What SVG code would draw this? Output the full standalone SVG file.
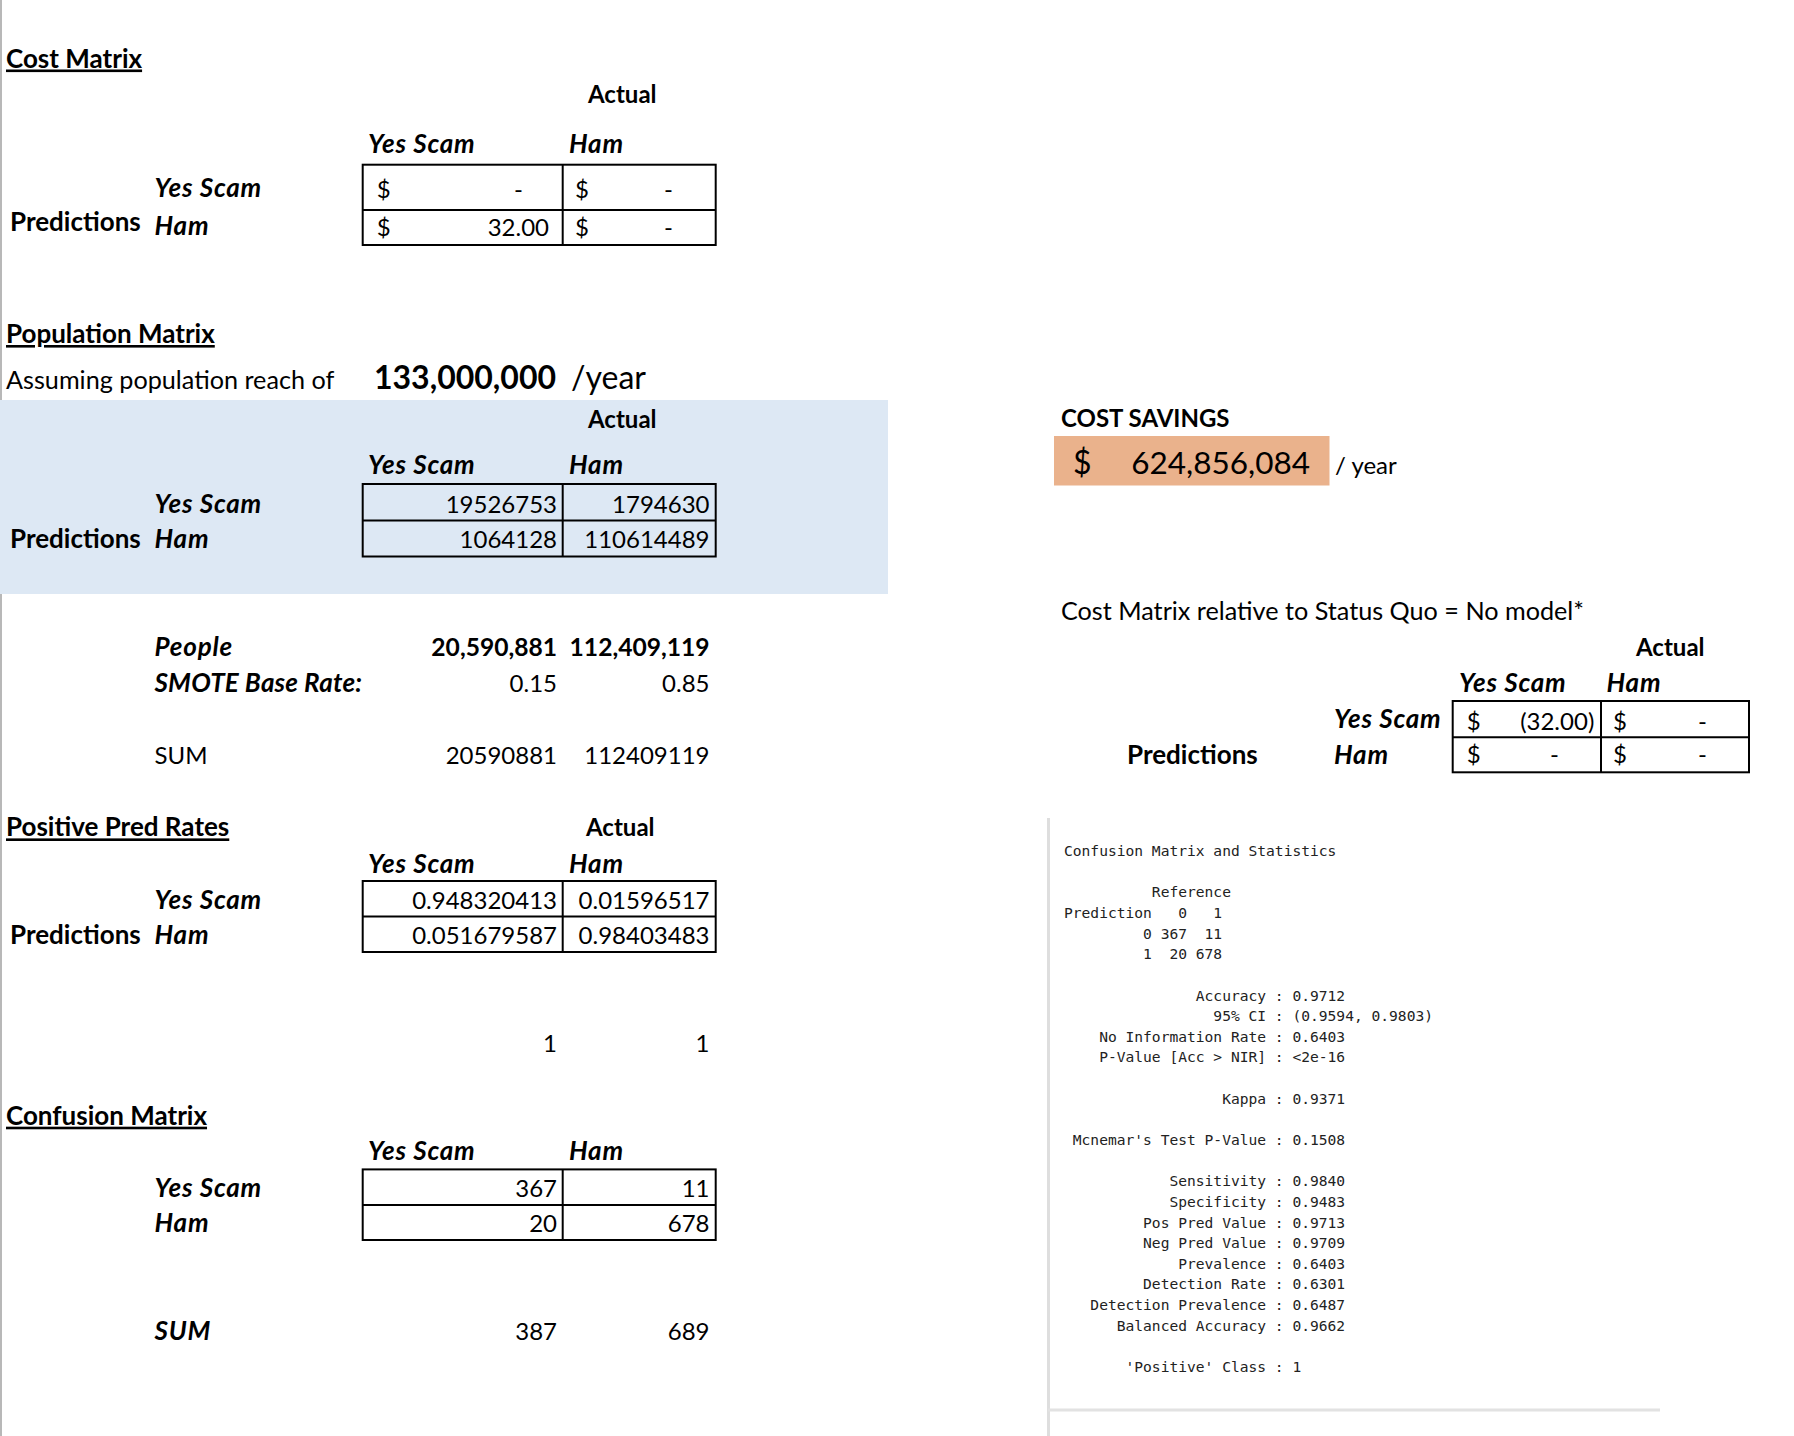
<svg xmlns="http://www.w3.org/2000/svg" width="1794" height="1436" viewBox="0 0 1794 1436">
<style>
.t{font-family:Lato,"Liberation Sans",sans-serif;font-size:24px;fill:#000}
.b{font-weight:700}
.bi{font-weight:700;font-style:italic;font-size:26px;letter-spacing:0.8px}
.h{font-size:26px}
.lbl{font-size:25.2px}
.u{text-decoration:underline}
.r{text-anchor:end}
.big{font-size:32px}
.grid{fill:none;stroke:#000;stroke-width:2}
.mono{font-family:"DejaVu Sans Mono","Liberation Mono",monospace;font-size:14.6px;fill:#222;white-space:pre}
</style>
<defs>
<clipPath id="clipSmote"><rect x="0" y="600" width="362" height="120"/></clipPath>
</defs>
<rect x="0" y="0" width="1794" height="1436" fill="#fff"/>
<rect x="0" y="0" width="2" height="1436" fill="#b8b8b8"/>

<g id="cost-matrix">
<text class="t b u h" x="6" y="67.5">Cost Matrix</text>
<text class="t b" x="588" y="103">Actual</text>
<text class="t bi" x="368" y="153">Yes Scam</text>
<text class="t bi" x="569" y="153">Ham</text>
<text class="t bi" x="154.5" y="197">Yes Scam</text>
<text class="t b h" x="10" y="231">Predictions</text>
<text class="t bi" x="154.5" y="235">Ham</text>
<rect class="grid" x="362.7" y="164.7" width="353" height="80.3"/>
<line class="grid" x1="362.7" y1="210" x2="715.7" y2="210"/>
<line class="grid" x1="562.7" y1="164.7" x2="562.7" y2="245"/>
<text class="t" x="376.7" y="198">$</text>
<text class="t r" x="523" y="198">-</text>
<text class="t" x="575" y="198">$</text>
<text class="t r" x="673" y="198">-</text>
<text class="t" x="376.7" y="236">$</text>
<text class="t r" x="549" y="236">32.00</text>
<text class="t" x="575" y="236">$</text>
<text class="t r" x="673" y="236">-</text>
</g>

<g id="population-matrix">
<text class="t b u h" x="6" y="343">Population Matrix</text>
<text class="t lbl" x="6" y="389">Assuming population reach of</text>
<text class="t b big" x="374" y="389">133,000,000</text>
<text class="t big" x="571" y="389">/year</text>
<rect x="0" y="400" width="888" height="194" fill="#DDE8F4"/>
<text class="t b" x="588" y="428">Actual</text>
<text class="t bi" x="368" y="474">Yes Scam</text>
<text class="t bi" x="569" y="474">Ham</text>
<text class="t bi" x="154.5" y="512.6">Yes Scam</text>
<text class="t b h" x="10" y="548">Predictions</text>
<text class="t bi" x="154.5" y="548">Ham</text>
<rect class="grid" x="362.7" y="484" width="353" height="72.5"/>
<line class="grid" x1="362.7" y1="520.5" x2="715.7" y2="520.5"/>
<line class="grid" x1="562.7" y1="484" x2="562.7" y2="556.5"/>
<text class="t r" x="557" y="512.6">19526753</text>
<text class="t r" x="709.5" y="512.6">1794630</text>
<text class="t r" x="557" y="548">1064128</text>
<text class="t r" x="709.5" y="548">110614489</text>
</g>

<g id="people-rows">
<text class="t bi" x="154.5" y="655.6">People</text>
<text class="t b r" x="557" y="655.6" style="font-size:24.6px">20,590,881</text>
<text class="t b r" x="709.5" y="655.6" style="font-size:24.6px">112,409,119</text>
<text class="t bi" x="154.5" y="692" style="letter-spacing:0.2px" clip-path="url(#clipSmote)">SMOTE Base Rate:</text>
<text class="t r" x="557" y="692">0.15</text>
<text class="t r" x="709.5" y="692">0.85</text>
<text class="t" x="154.5" y="764.4">SUM</text>
<text class="t r" x="557" y="764.4">20590881</text>
<text class="t r" x="709.5" y="764.4">112409119</text>
</g>

<g id="positive-pred-rates">
<text class="t b u h" x="6" y="836.4">Positive Pred Rates</text>
<text class="t b" x="586" y="836.4">Actual</text>
<text class="t bi" x="368" y="873">Yes Scam</text>
<text class="t bi" x="569" y="873">Ham</text>
<text class="t bi" x="154.5" y="908.5">Yes Scam</text>
<text class="t b h" x="10" y="944">Predictions</text>
<text class="t bi" x="154.5" y="944">Ham</text>
<rect class="grid" x="362.7" y="881" width="353" height="71"/>
<line class="grid" x1="362.7" y1="916.5" x2="715.7" y2="916.5"/>
<line class="grid" x1="562.7" y1="881" x2="562.7" y2="952"/>
<text class="t r" x="557" y="908.5">0.948320413</text>
<text class="t r" x="709.5" y="908.5">0.01596517</text>
<text class="t r" x="557" y="944">0.051679587</text>
<text class="t r" x="709.5" y="944">0.98403483</text>
<text class="t r" x="557" y="1051.5">1</text>
<text class="t r" x="709.5" y="1051.5">1</text>
</g>

<g id="confusion-matrix">
<text class="t b u h" x="6" y="1124.7">Confusion Matrix</text>
<text class="t bi" x="368" y="1160">Yes Scam</text>
<text class="t bi" x="569" y="1160">Ham</text>
<text class="t bi" x="154.5" y="1197">Yes Scam</text>
<text class="t bi" x="154.5" y="1232">Ham</text>
<rect class="grid" x="362.7" y="1169.4" width="353" height="70.6"/>
<line class="grid" x1="362.7" y1="1205" x2="715.7" y2="1205"/>
<line class="grid" x1="562.7" y1="1169.4" x2="562.7" y2="1240"/>
<text class="t r" x="557" y="1197">367</text>
<text class="t r" x="709.5" y="1197">11</text>
<text class="t r" x="557" y="1232">20</text>
<text class="t r" x="709.5" y="1232">678</text>
<text class="t bi" x="154.5" y="1340">SUM</text>
<text class="t r" x="557" y="1340">387</text>
<text class="t r" x="709.5" y="1340">689</text>
</g>

<g id="cost-savings">
<text class="t b" x="1061" y="427">COST SAVINGS</text>
<rect x="1054" y="436" width="275.5" height="49.5" fill="#EAB28C"/>
<text class="t big" x="1073" y="474">$</text>
<text class="t r" x="1310" y="474" style="font-size:31.5px">624,856,084</text>
<text class="t" x="1335" y="474">/ year</text>
</g>

<g id="relative-cost-matrix">
<text class="t lbl" x="1061" y="620">Cost Matrix relative to Status Quo = No model*</text>
<text class="t b" x="1636" y="655.6">Actual</text>
<text class="t bi" x="1459" y="692">Yes Scam</text>
<text class="t bi" x="1606.5" y="692">Ham</text>
<text class="t bi" x="1334" y="727.7">Yes Scam</text>
<text class="t b h" x="1127" y="764">Predictions</text>
<text class="t bi" x="1334" y="764">Ham</text>
<rect class="grid" x="1452.7" y="701" width="296.3" height="71.3"/>
<line class="grid" x1="1452.7" y1="737.3" x2="1749" y2="737.3"/>
<line class="grid" x1="1601" y1="701" x2="1601" y2="772.3"/>
<text class="t" x="1466.7" y="730">$</text>
<text class="t r" x="1594.3" y="730">(32.00)</text>
<text class="t" x="1613" y="730">$</text>
<text class="t r" x="1707" y="730">-</text>
<text class="t" x="1466.7" y="763.3">$</text>
<text class="t r" x="1559" y="763.3">-</text>
<text class="t" x="1613" y="763.3">$</text>
<text class="t r" x="1707" y="763.3">-</text>
</g>

<g id="r-output">
<line x1="1048.5" y1="818" x2="1048.5" y2="1436" stroke="#dedede" stroke-width="3"/>
<line x1="1048" y1="1410" x2="1660" y2="1410" stroke="#e2e2e2" stroke-width="3"/>
<g class="mono">
<text xml:space="preserve" x="1064" y="856">Confusion Matrix and Statistics</text>
<text xml:space="preserve" x="1064" y="897.3">          Reference</text>
<text xml:space="preserve" x="1064" y="917.9">Prediction   0   1</text>
<text xml:space="preserve" x="1064" y="938.6">         0 367  11</text>
<text xml:space="preserve" x="1064" y="959.2">         1  20 678</text>
<text xml:space="preserve" x="1064" y="1000.5">               Accuracy : 0.9712</text>
<text xml:space="preserve" x="1064" y="1021.1">                 95% CI : (0.9594, 0.9803)</text>
<text xml:space="preserve" x="1064" y="1041.8">    No Information Rate : 0.6403</text>
<text xml:space="preserve" x="1064" y="1062.4">    P-Value [Acc &gt; NIR] : &lt;2e-16</text>
<text xml:space="preserve" x="1064" y="1103.7">                  Kappa : 0.9371</text>
<text xml:space="preserve" x="1064" y="1145"> Mcnemar's Test P-Value : 0.1508</text>
<text xml:space="preserve" x="1064" y="1186.2">            Sensitivity : 0.9840</text>
<text xml:space="preserve" x="1064" y="1206.9">            Specificity : 0.9483</text>
<text xml:space="preserve" x="1064" y="1227.5">         Pos Pred Value : 0.9713</text>
<text xml:space="preserve" x="1064" y="1248.2">         Neg Pred Value : 0.9709</text>
<text xml:space="preserve" x="1064" y="1268.8">             Prevalence : 0.6403</text>
<text xml:space="preserve" x="1064" y="1289.4">         Detection Rate : 0.6301</text>
<text xml:space="preserve" x="1064" y="1310.1">   Detection Prevalence : 0.6487</text>
<text xml:space="preserve" x="1064" y="1330.7">      Balanced Accuracy : 0.9662</text>
<text xml:space="preserve" x="1064" y="1372">       'Positive' Class : 1</text>
</g>
</g>
</svg>
